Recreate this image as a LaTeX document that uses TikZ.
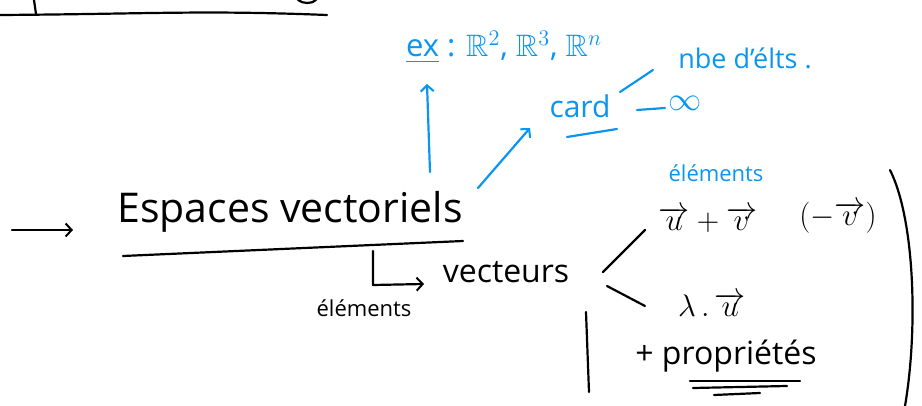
\documentclass[tikz,border=0pt]{standalone}
\usepackage{amssymb}
\usepackage{fontspec}
\setmainfont{Open Sans}
\usetikzlibrary{arrows.meta}
\definecolor{ink}{HTML}{0A96F0}
\newcommand{\mbig}[2]{\fontsize{20}{22}\selectfont\scalebox{#1}{#2}}
\begin{document}
\begin{tikzpicture}[x=1pt,y=-1pt,
  pen/.style={line width=2.2pt, line cap=round, line join=round},
  bpen/.style={pen, draw=ink},
  tip/.style={-{Straight Barb[length=6pt,width=13pt,line width=2pt]}},
  txt/.style={inner sep=0pt, anchor=center},
  btxt/.style={txt, text=ink}]
\useasboundingbox (0,0) rectangle (922,406);
% top
\draw[pen] (0,15) .. controls (150,14) and (200,10) .. (327,15);
\draw[pen] (34,0) -- (36,14);
\draw[pen] (298,0) .. controls (303,4) and (312,4) .. (316,0);
% main
\coordinate (a0) at (12,230);
\coordinate (a1) at (73,230);
\draw[pen, tip] (a0) -- (a1);
\node[txt, font=\fontsize{41}{43}\selectfont] (ev) at (290,212) {Espaces vectoriels};
\coordinate (u0) at (123,256);
\coordinate (u1) at (463,241);
\draw[pen] (u0) -- (u1);
\coordinate (h0) at (373,251);
\coordinate (hc) at (373,285);
\coordinate (h1) at (424,284);
\node[txt, font=\fontsize{32}{34}\selectfont] (vec) at (506,272) {vecteurs};
\draw[pen, tip] (h0) -- (hc) -- (h1);
\node[txt, font=\fontsize{22}{24}\selectfont] (el1) at (364,308) {éléments};
% blue
\node[btxt] (ex) at (504,47) {\mbig{1.55}{\underline{ex} : $\mathbb{R}^2$, $\mathbb{R}^3$, $\mathbb{R}^n$}};
\draw[bpen, tip] (430,172) -- (427,84);
\node[btxt, font=\fontsize{30}{32}\selectfont] (card) at (580,106) {card};
\draw[bpen] (567,137) -- (617,129);
\draw[bpen, tip] (478,188) -- (530,128);
\node[btxt, font=\fontsize{27}{29}\selectfont] (nbe) at (745,58) {nbe d'élts .};
\draw[bpen] (620,92) -- (653,70);
\node[btxt] (inf) at (685,103) {\mbig{1.6}{$\infty$}};
\draw[bpen] (637,110) -- (665,108);
\node[btxt, font=\fontsize{22}{24}\selectfont] (el2) at (716,173) {éléments};
% right part
\node[txt] (sum) at (708,220) {\mbig{1.5}{$\overrightarrow{u}+\overrightarrow{v}$}};
\node[txt] (neg) at (838,218) {\mbig{1.5}{$(-\overrightarrow{v})$}};
\draw[pen] (603,272) -- (645,230);
\draw[pen] (607,286) -- (645,306);
\node[txt] (lam) at (712,305) {\mbig{1.5}{$\lambda\,.\,\overrightarrow{u}$}};
\draw[pen] (586,312) -- (589,392);
\node[txt, font=\fontsize{32}{34}\selectfont] (prop) at (726,356) {+ propriétés};
\draw[pen] (690,381) -- (800,381);
\draw[pen] (693,388) -- (787,386);
\draw[pen] (714,395) -- (760,393);
\draw[pen] (890,170) .. controls (915,220) and (918,330) .. (905,406);
\end{tikzpicture}
\end{document}
